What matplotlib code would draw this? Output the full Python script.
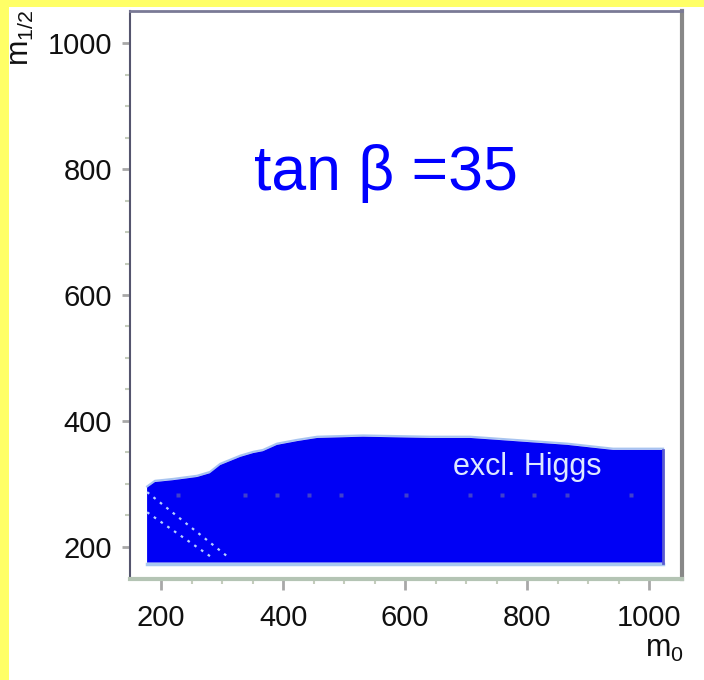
import matplotlib
matplotlib.use("Agg")
import matplotlib.pyplot as plt
from matplotlib.patches import Rectangle, Polygon
import numpy as np

plt.rcParams['font.family'] = ['Liberation Sans', 'DejaVu Sans']
plt.rcParams['mathtext.fontset'] = 'custom'
plt.rcParams['mathtext.rm'] = 'Liberation Sans'

# ---- data ----
edge_m0 = [177, 190, 220, 259, 280, 297, 330, 351, 367, 390, 423, 456, 531, 641, 707, 866, 941, 1023]
edge_m12 = [294, 303, 306, 311, 317, 330, 343, 349, 352, 362, 368, 373, 375, 373, 373, 362, 354, 354]
region_bottom = 175
lineA_m0 = [177, 311]
lineA_m12 = [287, 183]
lineB_m0 = [177, 285]
lineB_m12 = [255, 182]
dots_m0 = [228, 338, 390, 443, 495, 602, 707, 759, 811, 866, 970]
dots_m12 = [283] * len(dots_m0)
xticks = [200, 400, 600, 800, 1000]
yticks = [200, 400, 600, 800, 1000]
title_text = "tan β =35"
region_label = "excl. Higgs"

W, H = 704, 680
fig = plt.figure(figsize=(W / 100, H / 100), dpi=100)
fig.patch.set_facecolor('white')

# yellow frame strips
fig.patches.append(Rectangle((0, 0), 9 / W, 1, transform=fig.transFigure,
                             facecolor='#ffff66', edgecolor='none', zorder=0))
fig.patches.append(Rectangle((0, 1 - 7 / H), 1, 7 / H, transform=fig.transFigure,
                             facecolor='#ffff66', edgecolor='none', zorder=0))

ax = fig.add_axes([130 / W, 1 - 579 / H, (682 - 130) / W, (579 - 11) / H])
ax.set_xlim(149, 1054)
ax.set_ylim(149, 1051)

# excluded region
poly_x = list(edge_m0) + [edge_m0[-1], edge_m0[0]]
poly_y = list(edge_m12) + [region_bottom, region_bottom]
ax.add_patch(Polygon(np.column_stack([poly_x, poly_y]), closed=True,
                     facecolor='#0000f5', edgecolor='none', zorder=2))
ax.plot(edge_m0, np.array(edge_m12) + 2, color='#a8c4f0', lw=1.5, zorder=1.9)
ax.plot([edge_m0[0], edge_m0[-1]], [region_bottom - 1.5, region_bottom - 1.5],
        color='#a8c8f0', lw=2.5, zorder=2.1)
ax.plot([edge_m0[-1], edge_m0[-1]], [region_bottom, edge_m12[-1]],
        color='#5a5ad0', lw=2, zorder=2.1)

# dotted lines inside region
ax.plot(lineA_m0, lineA_m12, color='#b8d0ff', lw=1.6, ls=(0, (1.2, 2.5)), zorder=3)
ax.plot(lineB_m0, lineB_m12, color='#b8d0ff', lw=1.6, ls=(0, (1.2, 2.5)), zorder=3)
ax.plot(dots_m0, dots_m12, ls='none', marker='s', ms=2.5, color='#4040cc',
        mec='none', zorder=3)

ax.text(800, 327, region_label, color='#dde8ff', fontsize=22, ha='center',
        va='center', zorder=4)
ax.text(568, 767, title_text, color='#0000ff', fontsize=45, ha='center',
        va='baseline', zorder=4)

# ticks
ax.set_xticks(xticks)
ax.set_yticks(yticks)
ax.set_xticks(np.arange(250, 1001, 50), minor=True)
ax.set_yticks(np.arange(250, 1001, 50), minor=True)
ax.tick_params(axis='both', which='major', labelsize=21, labelcolor='#101010',
               color='#a8a8a8', width=2)
ax.tick_params(axis='x', which='major', length=8, pad=10)
ax.tick_params(axis='y', which='major', length=6, pad=7)
ax.tick_params(axis='both', which='minor', color='#c4ccbc', width=1.5, length=3.5)

ax.spines['left'].set_color('#55556e')
ax.spines['left'].set_linewidth(1.5)
ax.spines['top'].set_color('#7a7a96')
ax.spines['top'].set_linewidth(2)
ax.spines['top'].set_linestyle((0, (2, 1)))
ax.spines['right'].set_color('#888888')
ax.spines['right'].set_linewidth(3)
ax.spines['bottom'].set_color('#b4c4b4')
ax.spines['bottom'].set_linewidth(3)

# axis labels
fig.text(645 / W, 1 - 657 / H, r'$\mathregular{m_0}$', fontsize=22,
         ha='left', va='baseline', color='#101010')
fig.text(29 / W, 1 - 66 / H, r'$\mathregular{m_{1/2}}$', fontsize=22,
         rotation=90, rotation_mode='anchor', ha='left', va='baseline',
         color='#101010')

fig.savefig('out.png', dpi=100, facecolor=fig.get_facecolor())
